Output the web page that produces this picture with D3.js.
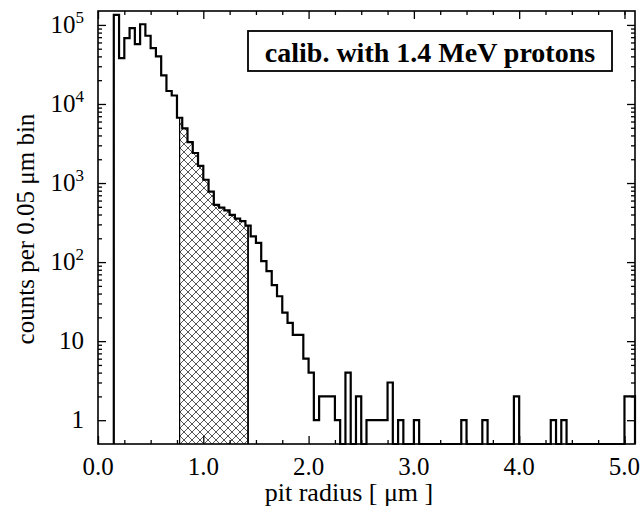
<!DOCTYPE html>
<html><head><meta charset="utf-8">
<script src="https://cdn.jsdelivr.net/npm/d3@7/dist/d3.min.js"></script>
<style>body{margin:0;background:#fff}svg{display:block}</style>
</head><body>
<svg id="chart" width="640" height="513"></svg>
<script>
// ---- data ----
const binWidth = 0.05;
const binStarts = [0.15,0.20,0.25,0.30,0.35,0.40,0.45,0.50,0.55,0.60,0.65,0.70,0.75,0.80,0.85,0.90,0.95,
  1.00,1.05,1.10,1.15,1.20,1.25,1.30,1.35,1.40,1.45,1.50,1.55,1.60,1.65,1.70,1.75,1.80,1.85,1.90,1.95,
  2.00,2.05,2.10,2.15,2.20,2.25,2.30,2.35,2.40,2.45,2.50,2.55,2.60,2.65,2.70,2.75,2.80,2.85,2.90,2.95,
  3.00,3.05,3.10,3.15,3.20,3.25,3.30,3.35,3.40,3.45,3.50,3.55,3.60,3.65,3.70,3.75,3.80,3.85,3.90,3.95,
  4.00,4.05,4.10,4.15,4.20,4.25,4.30,4.35,4.40,4.45,4.50,4.55,4.60,4.65,4.70,4.75,4.80,4.85,4.90,4.95,
  5.00,5.05];
const counts = [134000,38000,68000,91000,57000,102000,73000,51000,40000,23000,14600,12800,6700,4900,3300,2400,1650,
  1100,780,530,490,450,395,355,330,290,212,175,103,77,51,37,23,17,12,12,6,
  4,1,2,2,2,1,0,4,0,2,0,1,1,1,1,3,0,1,0,0,
  1,0,0,0,0,0,0,0,0,1,0,0,0,1,0,0,0,0,0,2,
  0,0,0,0,0,0,1,0,1,0,0,0,0,0,0,0,0,0,0,0,
  2,2];
const hatchRange = [0.775, 1.425];
const xMajorTicks = [0,1,2,3,4,5];
const xTickLabels = ["0.0","1.0","2.0","3.0","4.0","5.0"];
const xMinorTicks = [0.25,0.5,0.75,1.25,1.5,1.75,2.25,2.5,2.75,3.25,3.5,3.75,4.25,4.5,4.75,5.0];
const yMajorTicks = [1,10,100,1000,10000,100000];
const yTickBase = ["1","10","10","10","10","10"];
const yTickExp = ["","","2","3","4","5"];
const legendText = "calib. with 1.4 MeV protons";
const xTitle = "pit radius [ \u03bcm ]";
const yTitle = "counts per 0.05 \u03bcm bin";

// ---- layout ----
const FONT = "'Liberation Serif', 'Times New Roman', Times, serif";
const L = 98, R = 635, T = 11, B = 444;
const svg = d3.select("#chart");
const x = d3.scaleLinear().domain([0, 5.1]).range([L, R]);
const y = d3.scaleLog().domain([0.5, 150000]).range([B, T]);
const yv = v => v > 0 ? y(v) : B;

const yMinor = [];
for (let d = 1; d <= 100000; d *= 10) for (let k = 2; k <= 9; k++) if (d*k < 150000) yMinor.push(d*k);

// hatch pattern
const defs = svg.append("defs");
const P = 8;
const pat = defs.append("pattern").attr("id","xh").attr("patternUnits","userSpaceOnUse")
  .attr("width",P).attr("height",P);
pat.append("path").attr("d",`M0,0L${P},${P}M${P},0L0,${P}`)
  .attr("stroke","#555").attr("stroke-width",1).attr("fill","none");
defs.append("clipPath").attr("id","hclip").append("rect")
  .attr("x", x(hatchRange[0])).attr("y", T).attr("width", x(hatchRange[1]) - x(hatchRange[0])).attr("height", B - T);

// step data
const pts = binStarts.map((s,i) => [s, counts[i]]);
const last = binStarts[binStarts.length-1] + binWidth;
const stepPts = [[binStarts[0], 0], ...pts, [last, counts[counts.length-1]], [last, 0]];

const area = d3.area().curve(d3.curveStepAfter).x(d => x(d[0])).y0(B).y1(d => yv(d[1]));
svg.append("path").datum([...pts, [last, counts[counts.length-1]]]).attr("d", area)
  .attr("fill","url(#xh)").attr("clip-path","url(#hclip)");

// hatch borders
const valAt = xv => { const i = binStarts.findIndex(s => xv >= s && xv < s + binWidth); return counts[i]; };
hatchRange.forEach((h,k) => {
  svg.append("line").attr("x1", x(h)).attr("x2", x(h)).attr("y1", B).attr("y2", yv(valAt(h)))
    .attr("stroke","#000").attr("stroke-width", k === 0 ? 1.2 : 1.8);
});

const line = d3.line().curve(d3.curveStepAfter).x(d => x(d[0])).y(d => yv(d[1]));
svg.append("path").datum(stepPts).attr("d", line).attr("fill","none")
  .attr("stroke","#000").attr("stroke-width",2.2).attr("stroke-linejoin","miter");

// axes ticks (inward)
function tickAxis(axisFn, scale, vals, size, tr) {
  const g = svg.append("g").attr("transform", tr)
    .call(axisFn(scale).tickValues(vals).tickSize(size).tickFormat(""));
  g.select(".domain").remove();
  g.selectAll(".tick line").attr("stroke","#000").attr("stroke-width",1.3);
}
tickAxis(d3.axisBottom, x, xMajorTicks, -8, `translate(0,${B})`);
tickAxis(d3.axisBottom, x, xMinorTicks, -4, `translate(0,${B})`);
tickAxis(d3.axisTop, x, xMajorTicks, -8, `translate(0,${T})`);
tickAxis(d3.axisTop, x, xMinorTicks, -4, `translate(0,${T})`);
tickAxis(d3.axisLeft, y, yMajorTicks, -8, `translate(${L},0)`);
tickAxis(d3.axisLeft, y, yMinor, -4, `translate(${L},0)`);
tickAxis(d3.axisRight, y, yMajorTicks, -8, `translate(${R},0)`);
tickAxis(d3.axisRight, y, yMinor, -4, `translate(${R},0)`);

// frame
svg.append("rect").attr("x", L).attr("y", T).attr("width", R - L).attr("height", B - T)
  .attr("fill","none").attr("stroke","#000").attr("stroke-width",1.6);

// x tick labels
svg.append("g").selectAll("text").data(xMajorTicks).join("text")
  .attr("x", d => x(d)).attr("y", B + 31).attr("text-anchor","middle")
  .attr("font-family", FONT).attr("font-size", 25).text((d,i) => xTickLabels[i]);

// y tick labels
const yl = svg.append("g").selectAll("text").data(yMajorTicks).join("text")
  .attr("x", 84).attr("y", d => y(d) + 8).attr("text-anchor","end")
  .attr("font-family", FONT).attr("font-size", 25);
yl.append("tspan").text((d,i) => yTickBase[i]);
yl.append("tspan").attr("dy", -10).attr("font-size", 17).text((d,i) => yTickExp[i]);

// titles
svg.append("text").attr("x", 349).attr("y", 501).attr("text-anchor","middle")
  .attr("font-family", FONT).attr("font-size", 26).text(xTitle);
svg.append("text").attr("transform", `translate(34,229) rotate(-90)`)
  .attr("text-anchor","middle").attr("font-family", FONT).attr("font-size", 25).text(yTitle);

// legend
svg.append("rect").attr("x", 248).attr("y", 31).attr("width", 364).attr("height", 40)
  .attr("fill","#fff").attr("stroke","#000").attr("stroke-width",1.8);
svg.append("text").attr("x", 430).attr("y", 62).attr("text-anchor","middle")
  .attr("font-family", FONT).attr("font-size", 28).attr("font-weight","bold").text(legendText);
</script>
</body></html>
